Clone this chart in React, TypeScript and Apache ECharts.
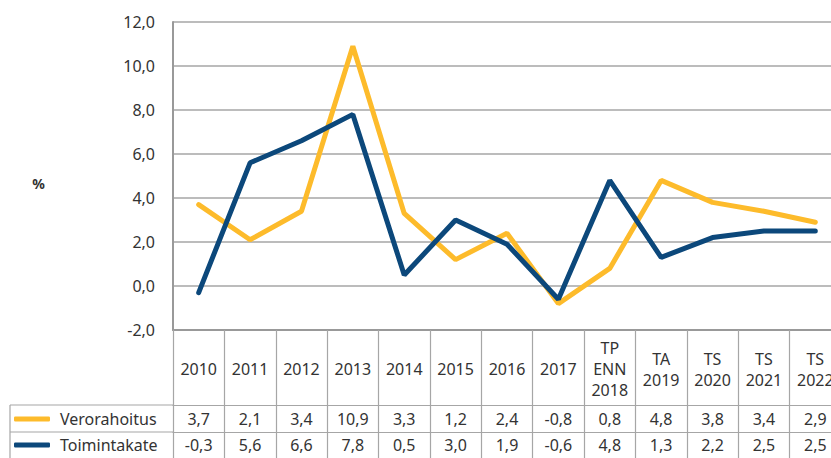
import React, { useEffect, useRef } from "react";
import * as echarts from "echarts";

const categories = [
  "2010", "2011", "2012", "2013", "2014", "2015", "2016", "2017",
  "TP\nENN\n2018", "TA\n2019", "TS\n2020", "TS\n2021", "TS\n2022",
];
const verorahoitus = [3.7, 2.1, 3.4, 10.9, 3.3, 1.2, 2.4, -0.8, 0.8, 4.8, 3.8, 3.4, 2.9];
const toimintakate = [-0.3, 5.6, 6.6, 7.8, 0.5, 3.0, 1.9, -0.6, 4.8, 1.3, 2.2, 2.5, 2.5];
const seriesNames = ["Verorahoitus", "Toimintakate"];
const yTicks = { min: -2, max: 12, interval: 2 };

const fmt = (v: number) => v.toFixed(1).replace(".", ",");

const FONT = "Noto Sans";
const TEXT = "#333333";
const GRID = "#a6a6a6";
const YELLOW = "#FDBB2B";
const BLUE = "#0C487B";

export default function App() {
  const ref = useRef<HTMLDivElement>(null);
  useEffect(() => {
    if (!ref.current) return;
    const chart = echarts.init(ref.current, undefined, { renderer: "svg" });
    const gridLeft = 173;
    const gridTop = 22;
    const gridH = 308;
    const gridW = 668;
    const bottomY = gridTop + gridH;
    const tableAxis = (data: string[], offset: number, margin: number, tickLen: number) => ({
      type: "category",
      data,
      position: "bottom",
      offset,
      boundaryGap: true,
      axisLine: { show: true, onZero: false, lineStyle: { color: GRID, width: 1.2 } },
      axisTick: {
        show: true,
        interval: 0,
        inside: false,
        length: tickLen,
        lineStyle: { color: GRID, width: 1.2 },
      },
      splitLine: { show: false },
      axisLabel: {
        interval: 0,
        margin,
        verticalAlign: "middle",
        fontFamily: FONT,
        fontSize: 16,
        color: TEXT,
      },
    });
    chart.setOption({
      animation: false,
      grid: { left: gridLeft, top: gridTop, width: gridW, height: gridH, containLabel: false },
      legend: {
        data: seriesNames,
        orient: "vertical",
        left: 14,
        top: 411,
        padding: 0,
        itemGap: 10,
        itemWidth: 36,
        itemHeight: 5,
        icon: "roundRect",
        textStyle: {
          fontFamily: FONT,
          fontSize: 16,
          color: TEXT,
          lineHeight: 16,
          padding: [0, 0, 0, 5],
        },
        selectedMode: false,
      },
      xAxis: [
        {
          type: "category",
          data: categories,
          position: "bottom",
          boundaryGap: true,
          axisLine: { show: true, onZero: false, lineStyle: { color: "#999999", width: 2 } },
          axisTick: {
            show: true,
            interval: 0,
            length: 75,
            lineStyle: { color: GRID, width: 1.2 },
          },
          axisLabel: {
            interval: 0,
            margin: 39,
            verticalAlign: "middle",
            fontFamily: FONT,
            fontSize: 16,
            lineHeight: 21,
            color: TEXT,
          },
        },
        tableAxis(verorahoitus.map(fmt), 75, 14, 27),
        tableAxis(toimintakate.map(fmt), 102, 13, 30),
      ],
      yAxis: {
        type: "value",
        min: yTicks.min,
        max: yTicks.max,
        interval: yTicks.interval,
        name: "%",
        nameLocation: "middle",
        nameRotate: 0,
        nameGap: 128,
        nameTextStyle: {
          fontFamily: FONT,
          fontSize: 14,
          fontWeight: "bold",
          color: TEXT,
          verticalAlign: "top",
        },
        axisLine: { show: true, lineStyle: { color: "#999999", width: 2 } },
        axisTick: { show: false },
        splitLine: { show: true, lineStyle: { color: GRID, width: 1.5 } },
        axisLabel: {
          margin: 18,
          fontFamily: FONT,
          fontSize: 16,
          color: TEXT,
          formatter: (v: number) => fmt(v),
        },
      },
      series: [
        {
          name: seriesNames[0],
          type: "line",
          data: verorahoitus,
          showSymbol: false,
          symbol: "none",
          itemStyle: { color: YELLOW },
          lineStyle: { color: YELLOW, width: 5, cap: "round" },
          z: 3,
        },
        {
          name: seriesNames[1],
          type: "line",
          data: toimintakate,
          showSymbol: false,
          symbol: "none",
          itemStyle: { color: BLUE },
          lineStyle: { color: BLUE, width: 5, cap: "round" },
          z: 4,
        },
      ],
      graphic: [
        {
          type: "line",
          shape: { x1: 10, y1: bottomY + 75, x2: gridLeft, y2: bottomY + 75 },
          style: { stroke: GRID, lineWidth: 1.2 },
        },
        {
          type: "line",
          shape: { x1: 10, y1: bottomY + 102, x2: gridLeft, y2: bottomY + 102 },
          style: { stroke: GRID, lineWidth: 1.2 },
        },
        {
          type: "line",
          shape: { x1: 10, y1: bottomY + 75, x2: 10, y2: 460 },
          style: { stroke: GRID, lineWidth: 1.2 },
        },
      ],
    });
    return () => chart.dispose();
  }, []);
  return (
    <div
      style={{
        position: "absolute",
        left: 0,
        top: 0,
        width: 831,
        height: 458,
        overflow: "hidden",
        background: "#fff",
      }}
    >
      <div ref={ref} style={{ width: 850, height: 458 }} />
    </div>
  );
}
